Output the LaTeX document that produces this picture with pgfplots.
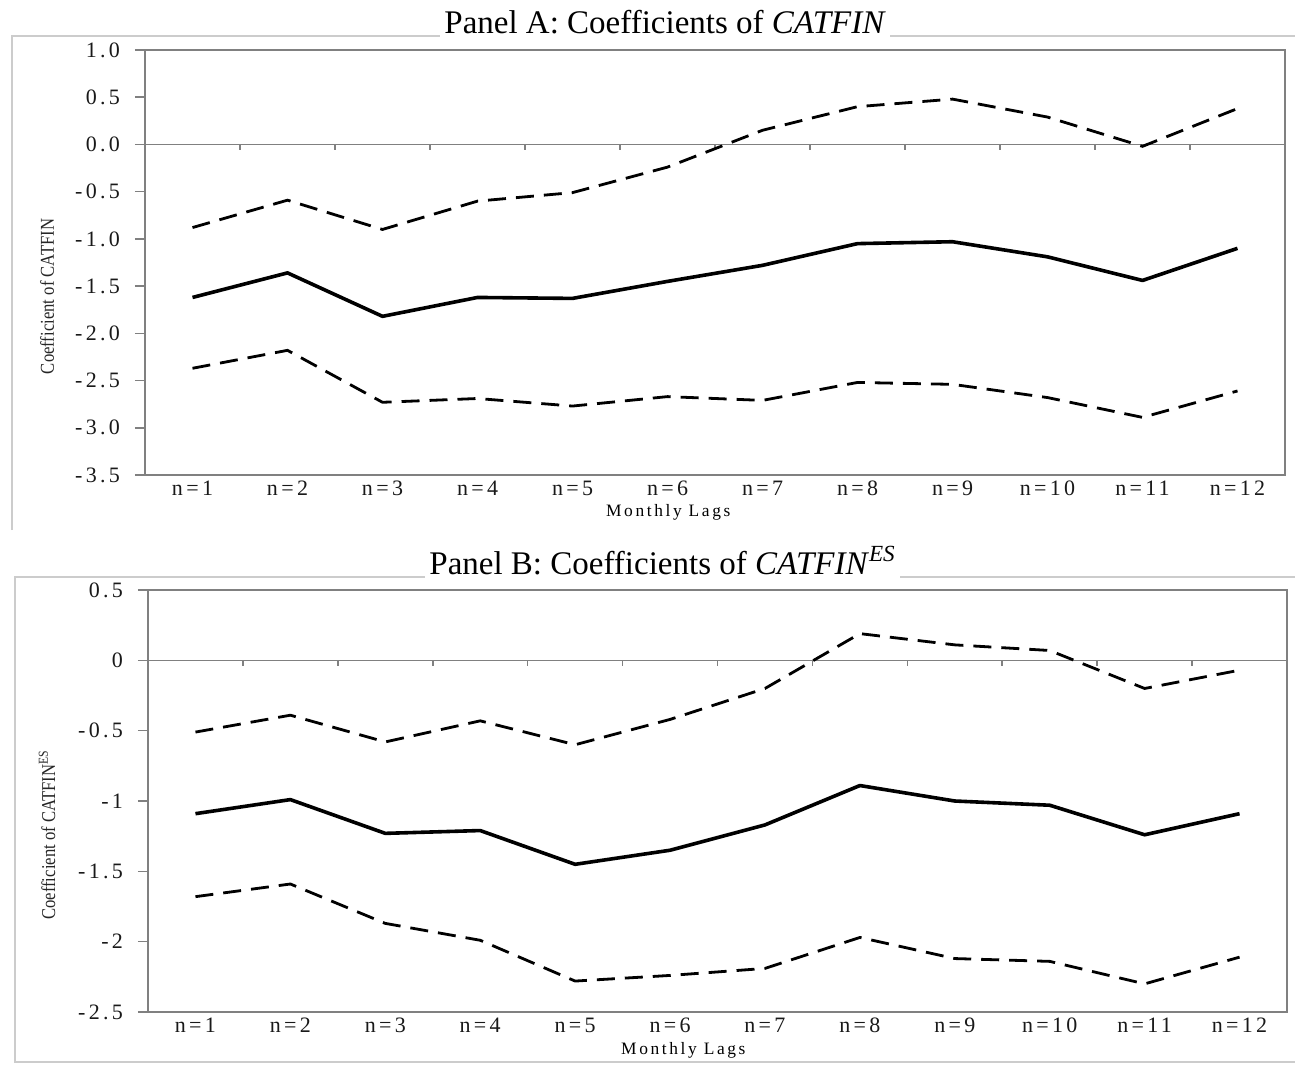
\documentclass[border=0pt]{standalone}
\usepackage{pgfplots}
\pgfplotsset{compat=1.18}
\usepackage{pgfplotstable}
\usepackage{fontspec}
\setmainfont{Liberation Serif}
\newfontfamily\tickfont[LetterSpace=15]{Liberation Serif}
\newfontfamily\labfont[FakeStretch=0.85]{Liberation Serif}

\pgfplotstableread{
n coef up lo
1 -1.62 -0.88 -2.37
2 -1.36 -0.59 -2.18
3 -1.82 -0.90 -2.73
4 -1.62 -0.60 -2.69
5 -1.63 -0.51 -2.77
6 -1.45 -0.24 -2.67
7 -1.28 0.15 -2.71
8 -1.05 0.40 -2.52
9 -1.03 0.48 -2.54
10 -1.19 0.29 -2.68
11 -1.44 -0.02 -2.89
12 -1.10 0.38 -2.61
}\dataA

\pgfplotstableread{
n coef up lo
1 -1.09 -0.51 -1.68
2 -0.99 -0.39 -1.59
3 -1.23 -0.58 -1.87
4 -1.21 -0.43 -1.99
5 -1.45 -0.60 -2.28
6 -1.35 -0.42 -2.24
7 -1.17 -0.20 -2.19
8 -0.89 0.19 -1.97
9 -1.00 0.11 -2.12
10 -1.03 0.07 -2.14
11 -1.24 -0.20 -2.30
12 -1.09 -0.07 -2.11
}\dataB

\pgfplotsset{
  panel/.style={
    anchor=south west,
    scale only axis,
    xmin=0.5, xmax=12.5,
    xtick={1,...,12},
    xticklabels={{n=1},{n=2},{n=3},{n=4},{n=5},{n=6},{n=7},{n=8},{n=9},{n=10},{n=11},{n=12}},
    tick align=outside,
    ytick pos=left, xtick pos=bottom,
    major x tick style={draw=none},
    major tick length=5pt,
    axis line style={gray, line width=0.8pt},
    every tick/.style={gray, line width=0.8pt},
    tick label style={font=\tickfont\fontsize{11}{12}\selectfont, text=black!90},
    yticklabel style={xshift=-4pt},
    xticklabel style={text height=1.5ex, text depth=0.2ex, yshift=5pt},
    xlabel style={font=\tickfont\fontsize{8.7}{9}\selectfont, anchor=center},
    ylabel style={font=\labfont\fontsize{9.8}{10}\selectfont, anchor=center, text=black!85},
  },
  mid/.style={black, line width=1.8pt, line join=round},
  band/.style={black, line width=1.4pt, dash pattern=on 9pt off 5pt},
}

\begin{document}
\begin{tikzpicture}
\useasboundingbox (0,0) rectangle (647.5pt,-532.5pt);

% outer frames
\draw[gray!40, line width=1pt] (6pt,-265pt) -- (6pt,-18pt) -- (647.5pt,-18pt);
\draw[gray!40, line width=1pt] (647.5pt,-531pt) -- (7.5pt,-531pt) -- (7.5pt,-288.5pt) -- (647.5pt,-288.5pt);

% Panel A
\begin{axis}[panel,
  at={(72.5pt,-237.5pt)},
  width=570pt, height=212.5pt,
  ymin=-3.5, ymax=1,
  ytick={-3.5,-3,-2.5,-2,-1.5,-1,-0.5,0,0.5,1},
  yticklabels={-3.5,-3.0,-2.5,-2.0,-1.5,-1.0,-0.5,0.0,0.5,1.0},
  xlabel={Monthly Lags},
  xlabel style={at={(axis description cs:0.459,0)}, yshift=-18.5pt},
  ylabel={Coefficient of CATFIN},
  ylabel style={at={(axis description cs:-0.086,0.42)}},
]
\draw[gray, line width=0.8pt] (axis cs:0.5,0) -- (axis cs:12.5,0);
\pgfplotsinvokeforeach{1.5,2.5,3.5,4.5,5.5,6.5,7.5,8.5,9.5,10.5,11.5}{\draw[gray, line width=0.8pt] (axis cs:#1,0) -- ([yshift=-3pt]axis cs:#1,0);}
\addplot[mid] table[x=n,y=coef] {\dataA};
\addplot[band] table[x=n,y=up] {\dataA};
\addplot[band] table[x=n,y=lo] {\dataA};
\end{axis}

% Panel B
\begin{axis}[panel,
  at={(74pt,-506pt)},
  width=569.5pt, height=211pt,
  ymin=-2.5, ymax=0.5,
  ytick={-2.5,-2,-1.5,-1,-0.5,0,0.5},
  yticklabels={-2.5,-2,-1.5,-1,-0.5,0,0.5},
  xlabel={Monthly Lags},
  xlabel style={at={(axis description cs:0.47,0)}, yshift=-19pt},
  ylabel={Coefficient of CATFIN\textsuperscript{ES}},
  ylabel style={at={(axis description cs:-0.0887,0.42)}},
]
\draw[gray, line width=0.8pt] (axis cs:0.5,0) -- (axis cs:12.5,0);
\pgfplotsinvokeforeach{1.5,2.5,3.5,4.5,5.5,6.5,7.5,8.5,9.5,10.5,11.5}{\draw[gray, line width=0.8pt] (axis cs:#1,0) -- ([yshift=-3pt]axis cs:#1,0);}
\addplot[mid] table[x=n,y=coef] {\dataB};
\addplot[band] table[x=n,y=up] {\dataB};
\addplot[band] table[x=n,y=lo] {\dataB};
\end{axis}

% titles
\node[anchor=base west, fill=white, inner sep=2pt, font=\fontsize{16.5}{18}\selectfont] at (220pt,-17pt)
  {Panel A: Coefficients of \textit{CATFIN}};
\node[anchor=base west, fill=white, inner sep=2pt, font=\fontsize{16.5}{18}\selectfont] at (212.5pt,-287pt)
  {Panel B: Coefficients of \textit{CATFIN}\textsuperscript{\textit{ES}}};
\end{tikzpicture}
\end{document}
